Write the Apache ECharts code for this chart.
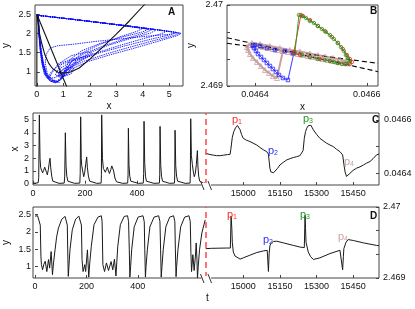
<!DOCTYPE html>
<html><head><meta charset="utf-8">
<script src="https://cdn.jsdelivr.net/npm/echarts@6/dist/echarts.min.js"></script>
<style>html,body{margin:0;padding:0;background:#fff}#c{width:415px;height:309px}</style>
</head><body><div id="c"></div>
<script>
// ---------- Panel A : phase plane (x, y) ----------
const phaseLoop1 = [[0.05,2.47],[1.2,2.38],[2.4,2.28],[3.5,2.19],[4.5,2.1],[5.4,2.01],[5.2,1.95],[4.4,1.81],[3.5,1.64],[2.6,1.46],[1.8,1.28],[1.3,1.12],[1.05,0.98],[0.85,0.88],[0.9,1.02],[1.15,1.12],[1.4,1.1],[1.3,0.95],[0.9,0.85],[0.7,0.92],[0.9,1.18],[1.5,1.35],[2.0,1.42],[1.7,1.3],[1.1,1.05],[0.7,0.85],[0.45,0.83],[0.3,0.97],[0.2,1.25],[0.13,1.6],[0.08,2.0],[0.05,2.47]];
const phaseLoop2 = [[0.05,2.47],[1.2,2.38],[2.4,2.28],[3.4,2.19],[4.0,2.13],[3.8,2.06],[3.1,1.9],[2.4,1.72],[1.8,1.52],[1.35,1.3],[1.1,1.05],[0.95,0.85],[0.75,0.75],[0.55,0.78],[0.38,0.93],[0.26,1.2],[0.17,1.55],[0.1,1.95],[0.05,2.47]];
const phaseLoop3 = [[0.05,2.47],[1.2,2.38],[2.4,2.28],[3.5,2.19],[4.5,2.1],[5.25,2.03],[5.0,1.96],[4.2,1.83],[3.3,1.67],[2.4,1.5],[1.7,1.33],[1.35,1.15],[1.2,0.98],[1.0,0.88],[0.8,0.9],[0.9,1.1],[1.4,1.3],[2.1,1.48],[1.9,1.52],[1.3,1.42],[0.8,1.2],[0.55,0.95],[0.45,0.8],[0.3,0.92],[0.2,1.2],[0.13,1.58],[0.08,2.0],[0.05,2.47]];
const phaseLoop4 = [[0.05,2.47],[1.2,2.38],[2.4,2.28],[3.5,2.19],[4.6,2.09],[5.45,2.0],[5.3,1.94],[4.5,1.78],[3.6,1.6],[2.7,1.43],[1.9,1.26],[1.4,1.1],[1.2,0.95],[0.9,0.84],[1.1,0.95],[1.3,1.08],[1.0,1.0],[0.8,0.88],[1.0,1.08],[1.5,1.25],[1.4,1.35],[0.9,1.22],[0.55,1.0],[0.4,0.82],[0.28,0.95],[0.18,1.25],[0.12,1.6],[0.07,2.0],[0.05,2.47]];
const phaseLoop5 = [[0.05,2.47],[1.2,2.38],[2.4,2.28],[3.5,2.18],[4.35,2.1],[4.1,2.02],[3.3,1.85],[2.5,1.67],[1.8,1.48],[1.3,1.26],[1.05,1.0],[0.9,0.8],[0.7,0.71],[0.5,0.76],[0.35,0.92],[0.24,1.2],[0.15,1.55],[0.09,1.95],[0.05,2.47]];
const phaseLoop6 = [[0.05,2.47],[1.2,2.38],[2.4,2.28],[3.5,2.19],[4.9,2.06],[4.7,1.99],[3.9,1.84],[3.0,1.66],[2.2,1.48],[1.55,1.3],[1.15,1.05],[0.95,0.82],[0.75,0.72],[0.52,0.75],[0.36,0.9],[0.25,1.18],[0.16,1.52],[0.1,1.92],[0.05,2.47]];
const phaseLoop7 = [[0.05,2.47],[1.2,2.38],[2.4,2.28],[3.5,2.19],[4.5,2.09],[4.3,2.01],[3.5,1.86],[2.7,1.69],[2.0,1.5],[1.45,1.28],[1.1,1.02],[0.92,0.8],[0.72,0.72],[0.5,0.77],[0.34,0.93],[0.23,1.2],[0.15,1.55],[0.09,1.95],[0.05,2.47]];
const phaseLoop8 = [[0.05,2.47],[1.2,2.38],[2.4,2.28],[3.4,2.19],[4.2,2.11],[4.0,2.04],[3.2,1.9],[2.4,1.74],[1.7,1.55],[1.25,1.32],[1.05,1.05],[0.9,0.82],[0.7,0.74],[0.5,0.8],[0.35,0.95],[0.24,1.22],[0.15,1.58],[0.09,1.98],[0.05,2.47]];
const phaseLoop9 = [[0.05,2.47],[2.4,2.28],[4.6,2.09],[5.3,2.02],[5.1,1.98],[4.2,1.93],[3.2,1.86],[2.2,1.79],[1.4,1.72],[0.8,1.68],[0.5,1.62],[0.35,1.45],[0.32,1.2],[0.4,0.95],[0.6,0.78],[0.85,0.72],[0.6,0.8],[0.35,0.95],[0.22,1.22],[0.14,1.56],[0.08,1.98],[0.05,2.47]];
const nullclineU = [[0,2.5],[0.04,2.3],[0.1,2.0],[0.18,1.75],[0.3,1.45],[0.45,1.22],[0.6,1.08],[0.8,0.99],[1.0,0.96],[1.3,1.0],[1.6,1.1],[2.0,1.33],[2.5,1.65],[3.0,1.98],[3.5,2.33],[4.05,2.74],[4.3,2.93]];
const nullclineLine = [[0,2.5],[1.2,0.49]];
const nullclineAxis = [[0,0.5],[0,2.5]];
const ticksAx = [0,1,2,3,4,5];
const ticksAy = [1,1.5,2,2.5];

// ---------- Panel B : zoom near the fixed point ----------
const trajPinkP4 = [[0.04645,2.469432],[0.0464393,2.469099],[0.0464321,2.469123],[0.046425,2.46916],[0.0464179,2.469198],[0.0464107,2.469247],[0.0464036,2.469296],[0.0463964,2.469346],[0.0463911,2.469395],[0.0463875,2.469444],[0.0463857,2.469481],[0.0463893,2.469506],[0.0463964,2.469506],[0.0464054,2.469494],[0.0464143,2.469481],[0.0464232,2.469469],[0.0464321,2.469457],[0.0464411,2.469444],[0.04645,2.469432],[0.0464589,2.46942],[0.0464679,2.469407],[0.0464768,2.469395],[0.0464857,2.469383],[0.0464946,2.46937],[0.0465036,2.469358],[0.0465125,2.469346],[0.0465214,2.469333],[0.0465304,2.469321],[0.0465393,2.469309],[0.0465482,2.469296],[0.0465571,2.469284],[0.0465661,2.469278],[0.0465625,2.469309],[0.0465518,2.469327],[0.0465393,2.469346],[0.046525,2.469364],[0.0465125,2.469383],[0.0464982,2.469401],[0.0464804,2.469426],[0.0464625,2.469444],[0.0464446,2.469469],[0.0464268,2.469494],[0.0464089,2.469519],[0.0463946,2.469531]];
const trajBlueP2 = [[0.0464696,2.469407],[0.0464589,2.469074],[0.04645,2.469099],[0.0464429,2.469136],[0.0464375,2.469173],[0.0464321,2.46921],[0.0464268,2.469247],[0.0464214,2.469284],[0.0464161,2.469321],[0.0464107,2.469358],[0.0464054,2.469395],[0.0464018,2.469432],[0.0463982,2.469469],[0.0463964,2.469494],[0.0464,2.469506],[0.0464089,2.469494],[0.0464214,2.469469],[0.0464357,2.469444],[0.0464536,2.469432],[0.0464679,2.469407]];
const trajRedP1 = [[0.0464696,2.46942],[0.0464821,2.469877],[0.0464857,2.469864],[0.0464982,2.469815],[0.0465125,2.469741],[0.046525,2.469679],[0.0465375,2.469605],[0.0465482,2.469531],[0.0465571,2.469457],[0.0465643,2.469383],[0.0465696,2.469333],[0.0465732,2.469296],[0.0465696,2.469272],[0.0465607,2.469272],[0.0465482,2.469284],[0.0465339,2.469309],[0.0465161,2.469333],[0.0464982,2.469358],[0.0464804,2.469383],[0.0464696,2.469407]];
const trajGreenP3 = [[0.0464714,2.469407],[0.0464786,2.469877],[0.0464839,2.469864],[0.0464911,2.46984],[0.0464982,2.469802],[0.0465054,2.469778],[0.0465125,2.469741],[0.0465196,2.469704],[0.0465268,2.469667],[0.0465339,2.46963],[0.0465411,2.46958],[0.0465482,2.469531],[0.0465536,2.469481],[0.0465589,2.469432],[0.0465625,2.469383],[0.0465661,2.469346],[0.0465696,2.469309],[0.0465679,2.469284],[0.0465625,2.469272],[0.0465554,2.469272],[0.0465482,2.469284],[0.0465411,2.469296],[0.0465339,2.469309],[0.046525,2.469321],[0.0465125,2.469333],[0.0464982,2.469358],[0.0464839,2.469383]];
const dashedNull1 = [[0.04635,2.469596],[0.04662,2.469177]];
const dashedNull2 = [[0.04635,2.469527],[0.04662,2.46928]];
const ticksBx = [0.0464,0.0465,0.0466];
const labelsBx = [0.0464,0.0466];
const ticksBy = [2.469,2.4693333,2.4696667,2.47];
const labelsBy = [2.469,2.47];

// ---------- Panels C / D : time series (t, value) ----------
const xEarly = [[0,0.05],[10,0.04],[20,0.08],[22,0.5],[24.4,5.4],[27,2.0],[29.5,1.25],[33,1.1],[37,0.85],[41,1.05],[45,1.3],[48.7,1.4],[52,0.9],[55,0.7],[59,1.1],[62,1.6],[65.4,2.0],[68,1.3],[72,0.6],[76,0.2],[80,0.06],[100,0.03],[120,0.05],[122,0.6],[124.4,4.0],[127,1.4],[130,0.6],[134,0.2],[138,0.05],[160,0.03],[180,0.05],[181.5,0.8],[183.3,5.25],[185.5,2.0],[187.2,1.45],[191,1.0],[195,0.55],[199,0.9],[203,1.6],[206.4,2.1],[209,1.3],[213,0.6],[218,0.2],[224,0.05],[245,0.03],[262,0.05],[263,0.7],[264.1,5.4],[267,2.0],[270.5,1.2],[274,1.05],[278,0.9],[282,1.1],[286,1.3],[290,1.0],[294,0.8],[299,1.1],[303,1.4],[306.4,1.5],[310,1.0],[315,0.45],[321,0.15],[328,0.05],[345,0.03],[364,0.05],[365.5,0.7],[366.7,4.35],[369,1.5],[372,0.6],[376,0.2],[381,0.05],[405,0.03],[424,0.05],[425.5,0.8],[426.9,4.9],[429.5,1.6],[432.5,0.6],[436,0.2],[441,0.05],[465,0.03],[486,0.05],[487.3,0.7],[488.5,4.5],[491,1.5],[494,0.6],[498,0.2],[503,0.05],[525,0.03],[544,0.05],[545,0.7],[546.2,4.2],[548.8,1.4],[552,0.6],[556,0.2],[561,0.05],[585,0.03],[604,0.05],[605,0.9],[606.4,5.1],[609,2.2],[612.8,1.5],[616,1.0],[620,0.55],[624,0.8],[628,1.5],[632,2.6],[634,1.4],[637,0.6],[641,0.2],[646,0.06],[655,0.04],[663,0.05]];
const xLate = [[14846,0.046475],[14860,0.046471],[14877,0.046468],[14890,0.046466],[14905,0.046466],[14920,0.046468],[14935,0.04647],[14946,0.046471],[14949,0.04649],[14955,0.046535],[14961,0.046556],[14968,0.04657],[14976,0.046579],[14982,0.046575],[14987,0.046563],[14993,0.046545],[15000,0.046531],[15013,0.046524],[15027,0.046519],[15040,0.046513],[15055,0.046506],[15068,0.046497],[15082,0.046488],[15096,0.046481],[15103,0.046472],[15106,0.046445],[15109,0.046419],[15113,0.046405],[15118,0.0464],[15124,0.046402],[15130,0.046406],[15140,0.046418],[15150,0.046431],[15164,0.046441],[15178,0.04645],[15192,0.046455],[15205,0.046459],[15218,0.046462],[15232,0.046466],[15240,0.046469],[15245,0.046485],[15250,0.046531],[15255,0.046556],[15260,0.046569],[15266,0.046578],[15270,0.046584],[15277,0.04658],[15287,0.046563],[15300,0.046546],[15314,0.046531],[15327,0.046522],[15341,0.046513],[15355,0.046506],[15369,0.0465],[15382,0.04649],[15396,0.046481],[15407,0.046469],[15412,0.046435],[15417,0.046405],[15423,0.046388],[15430,0.046392],[15437,0.0464],[15450,0.046411],[15464,0.046419],[15478,0.046424],[15492,0.046431],[15505,0.046438],[15519,0.046444],[15532,0.046455],[15546,0.046469],[15556,0.046472]];
const yEarly = [[0,2.46],[10,2.47],[17,2.45],[20.5,2.2],[23,1.3],[25,1.05],[29.5,0.9],[34,1.05],[39.7,1.15],[46,0.85],[52.6,1.2],[57,0.95],[62.8,1.43],[68,0.76],[72,1.1],[78,1.48],[84,1.85],[91,2.11],[104,2.37],[117,2.45],[123,2.46],[125.6,2.2],[128,1.2],[129.5,0.71],[132,1.0],[136,1.48],[145,2.06],[158,2.37],[170.5,2.46],[178,2.47],[180.5,2.2],[183,1.2],[187,0.85],[193.6,1.05],[197,0.85],[204,1.48],[209,0.69],[213,1.1],[219,1.58],[229.5,2.21],[245,2.43],[258,2.47],[261,2.3],[264,1.05],[270.5,0.85],[278,1.1],[286,0.88],[296,1.14],[302.5,0.9],[309,1.21],[315,0.72],[318,1.1],[322,1.58],[332,2.21],[347,2.45],[360,2.47],[364,2.3],[366.7,1.5],[369,0.69],[372,1.0],[376,1.48],[386,2.15],[401,2.43],[420,2.47],[425,2.3],[427,1.5],[429.5,0.69],[432,1.0],[437,1.48],[447,2.15],[463,2.43],[481,2.47],[486,2.3],[488.5,1.5],[491,0.69],[494,1.0],[498.7,1.48],[509,2.15],[524,2.43],[539,2.47],[544,2.3],[546,1.5],[548.7,0.7],[551,1.0],[556,1.48],[566.7,2.15],[582,2.43],[599,2.47],[604,2.3],[606.4,1.4],[609,0.85],[614,1.34],[619,0.88],[624,1.3],[627,1.68],[630,1.2],[632,0.66],[635,1.0],[640,1.48],[649,1.97],[662,2.35]];
const yLate = [[14846,2.469413],[14870,2.469418],[14900,2.46942],[14930,2.469422],[14947,2.469422],[14950,2.469872],[14953,2.4697],[14955,2.469505],[14959,2.469367],[14966,2.46931],[14973,2.469284],[14987,2.469266],[15000,2.469284],[15027,2.469321],[15055,2.469358],[15082,2.469381],[15098,2.46939],[15101,2.469367],[15103,2.469092],[15106,2.46935],[15109,2.46945],[15112,2.469482],[15123,2.469514],[15137,2.469518],[15164,2.469495],[15205,2.469459],[15232,2.469436],[15250,2.469427],[15253,2.469881],[15255,2.4697],[15257,2.469505],[15266,2.469367],[15276,2.4693],[15287,2.469261],[15314,2.469284],[15355,2.469344],[15396,2.46939],[15404,2.469404],[15407,2.469115],[15410,2.4693],[15412,2.469413],[15421,2.469505],[15430,2.469541],[15451,2.469528],[15492,2.469495],[15546,2.469459],[15556,2.469455]];
const ticksTEarly = [0,200,400];
const ticksTLate = [15000,15150,15300,15450];
const ticksCx = [0,1,2,3,4,5];
const ticksCxLate = [0.0464,0.0465,0.0466];
const labelsCxLate = [0.0464,0.0466];
const ticksDy = [1,1.5,2,2.5];
const ticksDyLate = [2.469,2.4693333,2.4696667,2.47];
const labelsDyLate = [2.469,2.47];
const breakT = 14847;
const eventNames = ['p','p','p','p'];
const eventColors = ['#ff2b2b','#2f2fff','#1d9a1d','#c9a3a3'];

// ---------- build chart ----------
const FONT = 'Liberation Sans, Arial, sans-serif';
const AX = '#444';
function vAxis(gi, min, max, labels, ticks, extra) {
  return Object.assign({
    type: 'value', gridIndex: gi, min: min, max: max,
    axisLine: {show: false}, splitLine: {show: false},
    axisTick: {show: true, inside: true, length: 3, lineStyle: {color: AX}, customValues: ticks || labels},
    axisLabel: {fontSize: 9, color: '#111', fontFamily: FONT, margin: 4, customValues: labels,
      formatter: function (v) { return String(v); }},
    nameTextStyle: {fontSize: 10, color: '#111', fontFamily: FONT}
  }, extra || {});
}
function hidden(gi) { return {type: 'value', gridIndex: gi, show: false, min: 0, max: 1}; }
const gridBase = {show: true, borderColor: AX, borderWidth: 1, backgroundColor: 'transparent', containLabel: false};
const grids = [
  Object.assign({left: 33, top: 5, width: 150, height: 81}, gridBase),
  Object.assign({left: 227, top: 5, width: 151, height: 81}, gridBase),
  {left: 33, top: 113, width: 172.7, height: 72, show: false},
  {left: 205.7, top: 113, width: 173.3, height: 72, show: false},
  {left: 33, top: 207, width: 172.7, height: 71, show: false},
  {left: 205.7, top: 207, width: 173.3, height: 71, show: false},
  Object.assign({left: 33, top: 113, width: 346, height: 72}, gridBase),
  Object.assign({left: 33, top: 207, width: 346, height: 71}, gridBase)
];
const xAxes = [
  vAxis(0, -0.07, 5.52, ticksAx, null, {name: 'x', nameLocation: 'middle', nameGap: 15}),
  vAxis(1, 0.04635, 0.04662, labelsBx, ticksBx, {name: 'x', nameLocation: 'middle', nameGap: 16}),
  vAxis(2, 0, 664, ticksTEarly),
  vAxis(3, 14846, 15556, ticksTLate),
  vAxis(4, 0, 664, ticksTEarly),
  vAxis(5, 14846, 15556, ticksTLate),
  hidden(6), hidden(7)
];
const yAxes = [
  vAxis(0, 0.63, 2.74, ticksAy, null, {name: 'y', nameLocation: 'middle', nameGap: 24}),
  vAxis(1, 2.469, 2.47, labelsBy, ticksBy, {name: 'y', nameLocation: 'middle', nameGap: 31}),
  vAxis(2, -0.1, 5.55, ticksCx, null, {name: 'x', nameLocation: 'middle', nameGap: 13}),
  vAxis(3, 0.046356, 0.046626, labelsCxLate, ticksCxLate, {position: 'right'}),
  vAxis(4, 0.663, 2.724, ticksDy, null, {name: 'y', nameLocation: 'middle', nameGap: 24}),
  vAxis(5, 2.469, 2.47, labelsDyLate, ticksDyLate, {position: 'right'}),
  hidden(6), hidden(7)
];
yAxes[3].axisLabel.margin = 5;
yAxes[5].axisLabel.margin = 4;

function line(data, xi, color, width, type, extra) {
  return Object.assign({type: 'line', xAxisIndex: xi, yAxisIndex: xi, data: data, showSymbol: false,
    symbol: 'none', animation: false, silent: true,
    lineStyle: {color: color, width: width, type: type || 'solid'}}, extra || {});
}
const series = [];
[phaseLoop1, phaseLoop2, phaseLoop3, phaseLoop4, phaseLoop5, phaseLoop6, phaseLoop7, phaseLoop8, phaseLoop9]
  .forEach(function (d) { series.push(line(d, 0, 'rgba(10,10,255,0.9)', 1, [1.4, 0.9])); });
series.push(line(nullclineU, 0, '#111', 1.1));
series.push(line(nullclineLine, 0, '#111', 1.1));
series.push(line(nullclineAxis, 0, '#111', 1.1));

function traj(data, color, sym, size, lw) {
  return line(data, 1, color, lw, 'solid', {showSymbol: true, symbol: sym, symbolSize: size,
    itemStyle: {color: 'rgba(255,255,255,0)', borderColor: color, borderWidth: 0.8}});
}
series.push(traj(trajPinkP4, '#c9a0a0', 'triangle', 5, 2));
series.push(traj(trajBlueP2, '#2323ff', 'rect', 3.5, 0.9));
series.push(traj(trajRedP1, '#ff2020', 'circle', 3.5, 0.9));
series.push(traj(trajGreenP3, '#18a018', 'circle', 3.5, 0.9));
series.push(line(dashedNull1, 1, '#000', 1.1, [5, 3]));
series.push(line(dashedNull2, 1, '#000', 1.1, [5, 3]));

const ml = {silent: true, symbol: 'none', label: {show: false}, animation: false,
  lineStyle: {color: '#ff5252', type: [6, 4], width: 1.6}, data: [{xAxis: breakT}]};
series.push(line(xEarly, 2, '#1a1a1a', 1));
series.push(line(xLate, 3, '#1a1a1a', 1, 'solid', {markLine: ml}));
series.push(line(yEarly, 4, '#1a1a1a', 1));
series.push(line(yLate, 5, '#1a1a1a', 1, 'solid', {markLine: ml}));

function pLabel(x, y, i) {
  return {type: 'text', x: x, y: y, z: 50, style: {
    text: '{p|' + eventNames[i] + '}{s|' + (i + 1) + '}',
    rich: {p: {fontSize: 11, fill: eventColors[i], fontFamily: FONT, lineHeight: 13},
           s: {fontSize: 7, fill: eventColors[i], fontFamily: FONT, padding: [5, 0, 0, 0], lineHeight: 13}}}};
}
function letter(x, y, t) {
  return {type: 'text', x: x, y: y, z: 50, style: {text: t, fontSize: 10, fontWeight: 'bold', fill: '#111', fontFamily: FONT}};
}
function seg(x1, y1, x2, y2) {
  return {type: 'line', z: 60, shape: {x1: x1, y1: y1, x2: x2, y2: y2}, style: {stroke: '#333', lineWidth: 1}};
}
const graphic = [
  letter(168, 7, 'A'), letter(370, 6, 'B'), letter(372, 115, 'C'), letter(370, 211, 'D'),
  pLabel(232, 113, 0), pLabel(268, 144, 1), pLabel(303, 112, 2), pLabel(344, 155, 3),
  pLabel(227, 208, 0), pLabel(263, 233, 1), pLabel(300, 208, 2), pLabel(338, 230, 3),
  {type: 'rect', z: 55, shape: {x: 201.5, y: 183, width: 9.5, height: 4}, style: {fill: '#fff'}},
  {type: 'rect', z: 55, shape: {x: 201.5, y: 276, width: 9.5, height: 4}, style: {fill: '#fff'}},
  seg(200.5, 181, 204, 190), seg(208, 181, 211.5, 190),
  seg(200.5, 274, 204, 283), seg(208, 274, 211.5, 283),
  {type: 'text', x: 206, y: 293, z: 50, style: {text: 't', fontSize: 10, fill: '#111', fontFamily: FONT}}
];

const chart = echarts.init(document.getElementById('c'), null, {renderer: 'canvas'});
chart.setOption({animation: false, grid: grids, xAxis: xAxes, yAxis: yAxes, series: series, graphic: graphic});
</script>
</body></html>
